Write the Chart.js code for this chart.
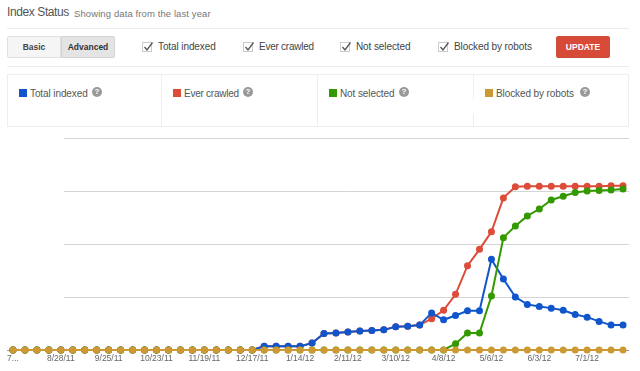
<!DOCTYPE html>
<html>
<head>
<meta charset="utf-8">
<script src="https://cdn.jsdelivr.net/npm/chart.js@4"></script>
<style>
  html, body { margin: 0; padding: 0; background: #fff; }
  body { width: 640px; height: 371px; position: relative; overflow: hidden; font-family: "Liberation Sans", Arial, sans-serif; }
  .abs { position: absolute; white-space: nowrap; }
  .rule { position: absolute; left: 7px; width: 622px; height: 1px; background: #ebebeb; }
  .btn { position: absolute; top: 36px; height: 22px; line-height: 20px; width: 54px; text-align: center; font-size: 8.5px; font-weight: bold; color: #444; border: 1px solid #e0e0e0; box-sizing: border-box; }
  .check { position: absolute; top: 42px; width: 10px; height: 10px; border: 1px solid #ccc; box-sizing: border-box; background: #fff; }
  .check svg { position: absolute; left: -1px; top: -3px; }
  .opt { position: absolute; top: 40px; font-size: 10px; line-height: 13px; color: #444; white-space: nowrap; letter-spacing: -.1px; }
  .box { position: absolute; left: 7px; top: 74px; width: 622px; height: 53px; border: 1px solid #eee; box-sizing: border-box; }
  .div { position: absolute; width: 1px; background: #eee; }
  .sw { position: absolute; top: 89px; width: 8px; height: 8px; }
  .lab { position: absolute; top: 87px; font-size: 10px; line-height: 13px; color: #555; white-space: nowrap; letter-spacing: -.1px; }
  .help { position: absolute; top: 87px; width: 10px; height: 10px; border-radius: 50%; background: #999; color: #fff; font-size: 8px; line-height: 10px; font-weight: bold; text-align: center; }
  #chartWrap { position: absolute; left: 0; top: 125px; width: 640px; height: 246px; }
</style>
</head>
<body>
  <div class="abs" style="left:7px;top:4px;font-size:12px;line-height:16px;letter-spacing:-.4px;color:#555">Index Status</div>
  <div class="abs" style="left:74px;top:7px;font-size:9.5px;line-height:13px;letter-spacing:.1px;color:#777">Showing data from the last year</div>
  <div class="rule" style="top:28px"></div>
  <div class="rule" style="top:66px"></div>

  <div class="btn" style="left:7px;background:#f5f5f5;border-radius:2px 0 0 2px">Basic</div>
  <div class="btn" style="left:61px;background:#e4e4e4;border-color:#d4d4d4;color:#333;border-radius:0 2px 2px 0">Advanced</div>

  <div class="check" style="left:142px"><svg width="12" height="12"><path d="M2.5 7 L5 10 L10.5 2.5" fill="none" stroke="#555" stroke-width="1.3"/></svg></div>
  <div class="opt" style="left:158px">Total indexed</div>
  <div class="check" style="left:243px"><svg width="12" height="12"><path d="M2.5 7 L5 10 L10.5 2.5" fill="none" stroke="#555" stroke-width="1.3"/></svg></div>
  <div class="opt" style="left:259px;letter-spacing:-.25px">Ever crawled</div>
  <div class="check" style="left:340px"><svg width="12" height="12"><path d="M2.5 7 L5 10 L10.5 2.5" fill="none" stroke="#555" stroke-width="1.3"/></svg></div>
  <div class="opt" style="left:356px">Not selected</div>
  <div class="check" style="left:438px"><svg width="12" height="12"><path d="M2.5 7 L5 10 L10.5 2.5" fill="none" stroke="#555" stroke-width="1.3"/></svg></div>
  <div class="opt" style="left:454px">Blocked by robots</div>
  <div class="btn" style="left:556px;background:#d84a38;border-color:#c8503f;color:#fff;border-radius:2px">UPDATE</div>

  <div class="box"></div>
  <div class="div" style="left:161px;top:75px;height:51px"></div>
  <div class="div" style="left:317px;top:75px;height:51px"></div>
  <div class="div" style="left:473px;top:75px;height:24px"></div>
  <div class="div" style="left:473px;top:114px;height:12px"></div>

  <div class="sw" style="left:19px;background:#1155cc"></div>
  <div class="lab" style="left:30px">Total indexed</div>
  <div class="help" style="left:92px">?</div>
  <div class="sw" style="left:173px;background:#dd4b39"></div>
  <div class="lab" style="left:184px;letter-spacing:-.25px">Ever crawled</div>
  <div class="help" style="left:243px">?</div>
  <div class="sw" style="left:329px;background:#339900"></div>
  <div class="lab" style="left:340px">Not selected</div>
  <div class="help" style="left:399px">?</div>
  <div class="sw" style="left:485px;background:#cc9933"></div>
  <div class="lab" style="left:496px">Blocked by robots</div>
  <div class="help" style="left:580px">?</div>

  <div id="chartWrap"><canvas id="chart" width="640" height="246"></canvas></div>

<script>
// weekly points, only every 4th one has a label
const tickLabels = [
  "7...", "", "", "", "8/28/11", "", "", "", "9/25/11", "", "", "", "10/23/11",
  "", "", "", "11/19/11", "", "", "", "12/17/11", "", "", "", "1/14/12",
  "", "", "", "2/11/12", "", "", "", "3/10/12", "", "", "", "4/8/12",
  "", "", "", "5/6/12", "", "", "", "6/3/12", "", "", "", "7/1/12",
  "", "", ""
];

const totalIndexed = [
  0, 0, 0, 0, 0, 0, 0, 0, 0, 0, 0, 0, 0, 0, 0, 0, 0, 0, 0, 0, 0,
  7, 7, 7, 7, 13, 31, 32, 34, 36, 37, 38, 44, 45, 47, 70, 57, 65, 74, 74,
  171, 134, 100, 86, 82, 79, 75, 67, 62, 54, 47, 47
];
const everCrawled = [
  0, 0, 0, 0, 0, 0, 0, 0, 0, 0, 0, 0, 0, 0, 0, 0, 0, 0, 0, 0, 0,
  7, 7, 7, 7, 13, 31, 32, 34, 36, 37, 38, 44, 45, 47, 59, 75, 105, 159, 190,
  223, 287, 308, 309, 309, 309, 309, 309, 309, 309, 310, 310
];
const notSelected = [
  0, 0, 0, 0, 0, 0, 0, 0, 0, 0, 0, 0, 0, 0, 0, 0, 0, 0, 0, 0, 0,
  0, 0, 0, 0, 0, 0, 0, 0, 0, 0, 0, 0, 0, 0, 0, 0, 12, 32, 32,
  102, 212, 234, 253, 266, 283, 290, 297, 300, 301, 302, 304
];
const blockedByRobots = [
  0, 0, 0, 0, 0, 0, 0, 0, 0, 0, 0, 0, 0, 0, 0, 0, 0, 0, 0, 0, 0,
  0, 0, 0, 0, 0, 0, 0, 0, 0, 0, 0, 0, 0, 0, 0, 0, 0, 0, 0,
  0, 0, 0, 0, 0, 0, 0, 0, 0, 0, 0, 0
];
const gridValues = [100, 200, 300, 400];

function series(label, data, color, order) {
  return {
    label, data, order,
    borderColor: color,
    backgroundColor: color,
    borderWidth: 2,
    pointRadius: 3.5,
    pointBorderWidth: 0,
    tension: 0,
    clip: false
  };
}

// horizontal lines stop short of the left edge, the default grid can't do that
const shortGrid = {
  id: "shortGrid",
  beforeDatasetsDraw(chart) {
    const { ctx, scales, chartArea } = chart;
    ctx.save();
    ctx.lineWidth = 1;
    ctx.strokeStyle = "#d4d4d4";
    gridValues.forEach(v => {
      const y = Math.round(scales.y.getPixelForValue(v)) + 0.5;
      ctx.beginPath();
      ctx.moveTo(64, y);
      ctx.lineTo(chartArea.right, y);
      ctx.stroke();
    });
    const y0 = Math.round(scales.y.getPixelForValue(0)) + 0.5;
    ctx.strokeStyle = "#999";
    ctx.beginPath();
    ctx.moveTo(chartArea.left, y0);
    ctx.lineTo(chartArea.right, y0);
    ctx.stroke();
    ctx.restore();
  }
};

new Chart(document.getElementById("chart").getContext("2d"), {
  type: "line",
  data: {
    labels: tickLabels,
    datasets: [
      series("Total indexed", totalIndexed, "#1155cc", 3),
      series("Ever crawled", everCrawled, "#dd4b39", 4),
      series("Not selected", notSelected, "#339900", 2),
      series("Blocked by robots", blockedByRobots, "#cc9933", 1)
    ]
  },
  plugins: [shortGrid],
  options: {
    responsive: false,
    animation: false,
    layout: { padding: { left: 7, right: 11, top: 13, bottom: 0 } },
    plugins: { legend: { display: false }, tooltip: { enabled: false } },
    scales: {
      x: {
        offset: true,
        grid: { display: false },
        border: { display: false },
        afterFit: scale => { scale.height = 21; },
        ticks: {
          autoSkip: false,
          maxRotation: 0,
          padding: -4,
          color: "#666",
          font: { family: "'Liberation Sans', Arial, sans-serif", size: 8.5 }
        }
      },
      y: {
        display: false,
        min: 0,
        max: 400,
        grid: { display: false }
      }
    }
  }
});
</script>
</body>
</html>
